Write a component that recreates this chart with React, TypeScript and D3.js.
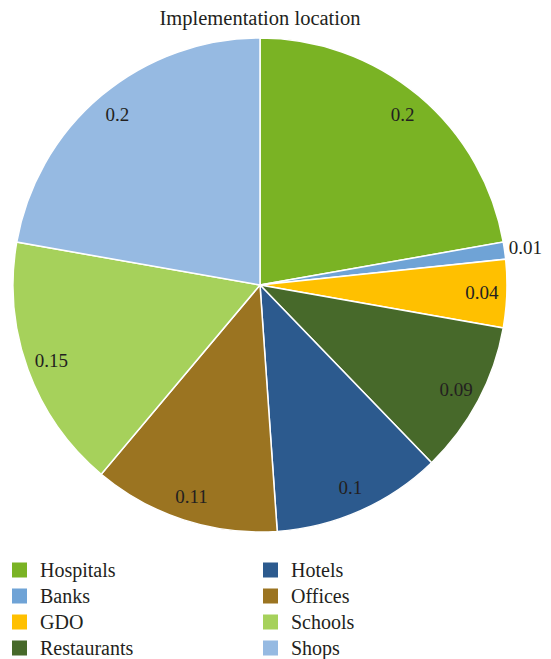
import React from "react";
import * as d3 from "d3";

const title = "Implementation location";
const categories = ["Hospitals", "Banks", "GDO", "Restaurants", "Hotels", "Offices", "Schools", "Shops"];
const values = [0.2, 0.01, 0.04, 0.09, 0.1, 0.11, 0.15, 0.2];
const colors = ["#7AB324", "#6FA3D6", "#FFC000", "#47692A", "#2C5A8E", "#9B7421", "#A6D15B", "#96BAE2"];

const W = 551;
const H = 659;
const cx = 260;
const cy = 285;
const R = 247;
const FONT = '"Liberation Serif", "DejaVu Serif", serif';

export default function App() {
  const pie = d3.pie<number>().sort(null).value((d) => d)(values);
  const arc = d3.arc<d3.PieArcDatum<number>>().innerRadius(0).outerRadius(R);
  const labelArc = d3.arc<d3.PieArcDatum<number>>().innerRadius(222).outerRadius(222);
  const outArc = d3.arc<d3.PieArcDatum<number>>().innerRadius(268).outerRadius(268);

  return (
    <svg width={W} height={H} style={{ position: "absolute", left: 0, top: 0 }}>
      <rect width={W} height={H} fill="#fff" />
      <text x={cx} y={18} textAnchor="middle" dominantBaseline="central" style={{ fontFamily: FONT, fontSize: 20.5 }} fill="#231f20">
        {title}
      </text>
      <g transform={`translate(${cx},${cy})`}>
        {pie.map((p, i) => (
          <path key={i} d={arc(p) || ""} fill={colors[i]} stroke="#fff" strokeWidth={1.5} />
        ))}
        {pie.map((p, i) => {
          const small = p.endAngle - p.startAngle < 0.1;
          const [x, y] = small ? outArc.centroid(p) : labelArc.centroid(p);
          return (
            <text
              key={i}
              x={x}
              y={y}
              textAnchor="middle"
              dominantBaseline="central"
              style={{ fontFamily: FONT, fontSize: 19 }}
              fill="#231f20"
            >
              {values[i]}
            </text>
          );
        })}
      </g>
      {categories.map((c, i) => {
        const col = Math.floor(i / 4);
        const row = i % 4;
        const x = 12 + col * 251;
        const y = 570 + row * 26;
        return (
          <g key={c}>
            <rect x={x} y={y - 7.5} width={15} height={15} fill={colors[i]} />
            <text x={x + 28} y={y} dominantBaseline="central" style={{ fontFamily: FONT, fontSize: 20 }} fill="#231f20">
              {c}
            </text>
          </g>
        );
      })}
    </svg>
  );
}
